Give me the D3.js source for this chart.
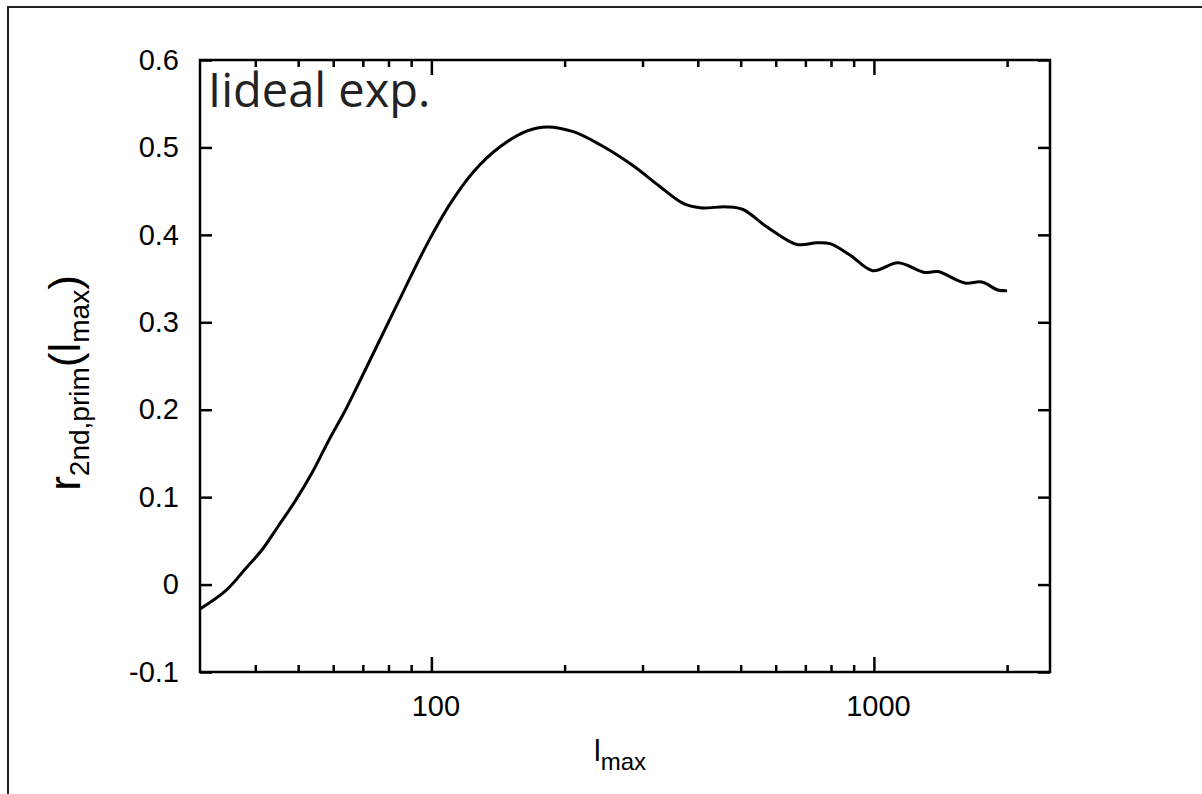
<!DOCTYPE html>
<html>
<head>
<meta charset="utf-8">
<script src="https://d3js.org/d3.v7.min.js"></script>
<style>
  body { margin: 0; background: #fff; }
  svg { display: block; }
  .tick text { font-family: "Liberation Sans", Arial, sans-serif; fill: #000; }
</style>
</head>
<body>
<div id="chart"></div>
<script>
// l_max values (log axis) and the matching r values
const lmax = [30, 34.3, 38, 41.6, 45.1, 49.3, 53.9, 58.5, 64, 69.1, 75.5, 85.1, 97.9,
  110.4, 124.4, 143.2, 164.7, 182.7, 209.2, 240.7, 285.8, 328.8, 370.7, 404.9, 465.8,
  506, 573.5, 670, 743.3, 795.6, 882.8, 994.7, 1133, 1303, 1395, 1605, 1753, 1905, 2000];
const rval = [-0.028, -0.007, 0.018, 0.041, 0.067, 0.096, 0.129, 0.164, 0.2, 0.234, 0.274, 0.328, 0.39,
  0.436, 0.472, 0.501, 0.519, 0.5235, 0.518, 0.503, 0.479, 0.455, 0.436, 0.431, 0.432,
  0.429, 0.409, 0.389, 0.391, 0.39, 0.377, 0.359, 0.368, 0.357, 0.358, 0.345, 0.346, 0.337, 0.336];

const yTicks = [-0.1, 0, 0.1, 0.2, 0.3, 0.4, 0.5, 0.6];
const xMajor = [100, 1000];
const xMinor = [40, 50, 60, 70, 80, 90, 200, 300, 400, 500, 600, 700, 800, 900, 2000];

const W = 1202, H = 794;
const plotL = 200, plotR = 1050, plotT = 60, plotB = 672;

const svg = d3.select("#chart").append("svg")
    .attr("width", W)
    .attr("height", H);

// outer border of the figure
svg.append("rect")
    .attr("x", 8).attr("y", 7)
    .attr("width", W).attr("height", H)
    .attr("fill", "none")
    .attr("stroke", "#222")
    .attr("stroke-width", 2);

const x = d3.scaleLog().domain([30, 2500]).range([plotL, plotR]);
const y = d3.scaleLinear().domain([-0.1, 0.6]).range([plotB, plotT]);

function styleAxis(g) {
    g.select(".domain").remove();
    g.selectAll(".tick line").attr("stroke", "#000").attr("stroke-width", 2.5);
    g.selectAll(".tick text").style("font-size", "29px");
}

// bottom axis: major ticks with labels, minor without
svg.append("g")
    .attr("transform", `translate(0,${plotB})`)
    .call(d3.axisBottom(x).tickValues(xMajor).tickFormat(d3.format("d")).tickSize(-15).tickPadding(23))
    .call(styleAxis)
    .selectAll(".tick text").attr("dx", 4);
svg.append("g")
    .attr("transform", `translate(0,${plotB})`)
    .call(d3.axisBottom(x).tickValues(xMinor).tickFormat("").tickSize(-7))
    .call(styleAxis);

// top axis mirrored
svg.append("g")
    .attr("transform", `translate(0,${plotT})`)
    .call(d3.axisTop(x).tickValues(xMajor).tickFormat("").tickSize(-15))
    .call(styleAxis);
svg.append("g")
    .attr("transform", `translate(0,${plotT})`)
    .call(d3.axisTop(x).tickValues(xMinor).tickFormat("").tickSize(-7))
    .call(styleAxis);

// y axes
svg.append("g")
    .attr("transform", `translate(${plotL},0)`)
    .call(d3.axisLeft(y).tickValues(yTicks).tickFormat(d => d3.format(".1~f")(d).replace("−", "-")).tickSize(-12).tickPadding(21))
    .call(styleAxis);
svg.append("g")
    .attr("transform", `translate(${plotR},0)`)
    .call(d3.axisRight(y).tickValues(yTicks).tickFormat("").tickSize(-12))
    .call(styleAxis);

// frame
svg.append("rect")
    .attr("x", plotL).attr("y", plotT)
    .attr("width", plotR - plotL).attr("height", plotB - plotT)
    .attr("fill", "none")
    .attr("stroke", "#000")
    .attr("stroke-width", 2.5);

// curve
const pts = lmax.map((l, i) => [l, rval[i]]);
const line = d3.line()
    .x(d => x(d[0]))
    .y(d => y(d[1]))
    .curve(d3.curveCatmullRom.alpha(0.5));
svg.append("path")
    .datum(pts)
    .attr("d", line)
    .attr("fill", "none")
    .attr("stroke", "#000")
    .attr("stroke-width", 3);

// in-plot label
svg.append("text")
    .attr("x", 208).attr("y", 107)
    .style("font-family", "'Open Sans', sans-serif")
    .style("font-size", "47px")
    .attr("fill", "#222")
    .text("Iideal exp.");

// x label
const xl = svg.append("text")
    .attr("x", 620).attr("y", 761)
    .attr("text-anchor", "middle")
    .style("font-family", "'Liberation Sans', Arial, sans-serif")
    .style("font-size", "30px");
xl.append("tspan").text("l");
xl.append("tspan").attr("dy", 9).style("font-size", "24px").text("max");

// y label
const yl = svg.append("text")
    .attr("transform", "translate(80,383) rotate(-90)")
    .attr("text-anchor", "middle")
    .style("font-family", "'Liberation Sans', Arial, sans-serif")
    .style("font-size", "44px");
yl.append("tspan").text("r");
yl.append("tspan").attr("dy", 9).style("font-size", "28px").text("2nd,prim");
yl.append("tspan").attr("dy", -9).text("(l");
yl.append("tspan").attr("dy", 9).style("font-size", "28px").text("max");
yl.append("tspan").attr("dy", -9).text(")");
</script>
</body>
</html>
